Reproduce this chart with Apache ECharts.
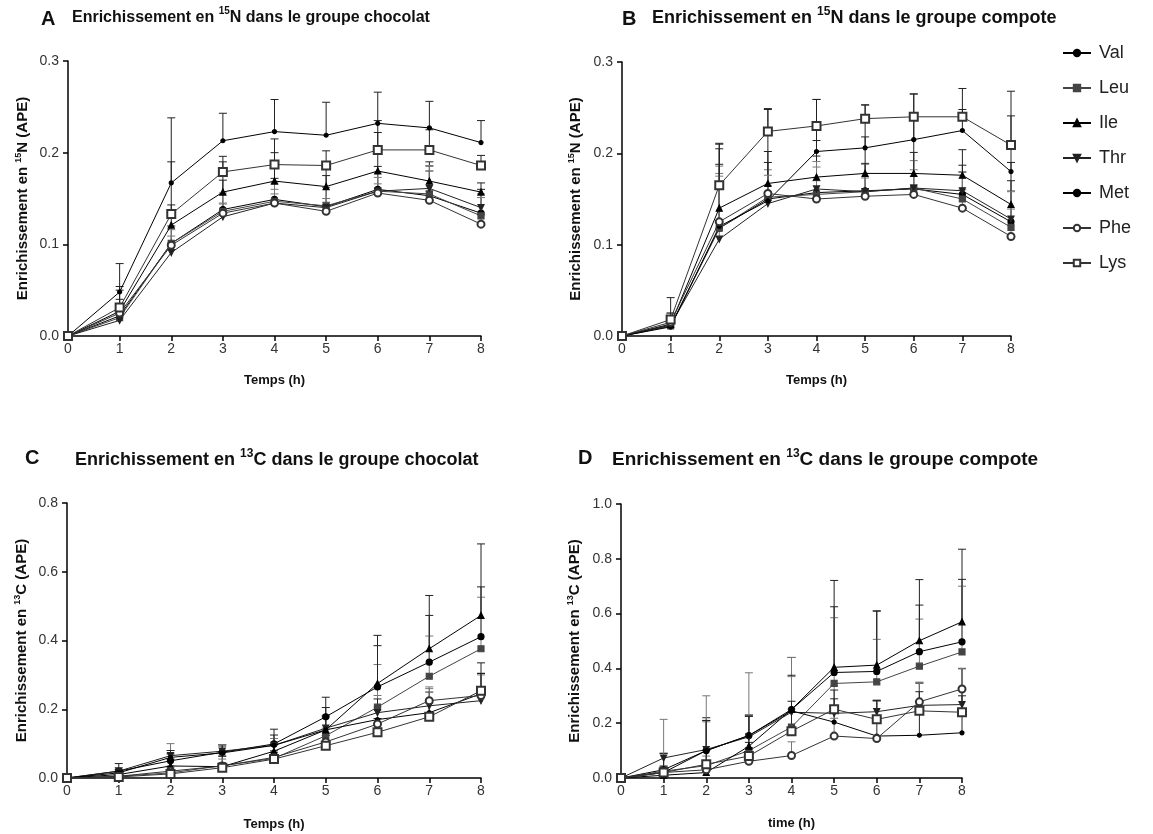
<!DOCTYPE html>
<html>
<head>
<meta charset="utf-8">
<title>Enrichissement 15N / 13C</title>
<script src="https://cdn.jsdelivr.net/npm/echarts@6/dist/echarts.min.js"></script>
<style>
  html, body { margin: 0; padding: 0; background: #fff; }
  #chart { width: 1153px; height: 834px; }
</style>
</head>
<body>
<div id="chart"></div>
<script>
// time points (h)
const hours = [0, 1, 2, 3, 4, 5, 6, 7, 8]
const aminoAcids = ['Val', 'Leu', 'Ile', 'Thr', 'Met', 'Phe', 'Lys']

// A : 15N, groupe chocolat (mean APE)
const A_Val = [0, 0.022, 0.101, 0.138, 0.149, 0.141, 0.160, 0.153, 0.134]
const A_Leu = [0, 0.020, 0.101, 0.136, 0.147, 0.142, 0.158, 0.155, 0.131]
const A_Ile = [0, 0.027, 0.121, 0.157, 0.169, 0.163, 0.180, 0.169, 0.157]
const A_Thr = [0, 0.017, 0.091, 0.130, 0.145, 0.140, 0.158, 0.161, 0.140]
const A_Met = [0, 0.048, 0.167, 0.213, 0.223, 0.219, 0.232, 0.227, 0.211]
const A_Phe = [0, 0.025, 0.099, 0.134, 0.145, 0.136, 0.156, 0.148, 0.122]
const A_Lys = [0, 0.031, 0.133, 0.179, 0.187, 0.186, 0.203, 0.203, 0.186]
// A : SD (upper bars)
const A_Val_sd = [0, 0.018, 0.019, 0.032, 0.023, 0.034, 0.025, 0.027, 0.026]
const A_Leu_sd = [0, 0.012, 0.015, 0.020, 0.020, 0.020, 0.020, 0.030, 0.020]
const A_Ile_sd = [0, 0.023, 0.022, 0.033, 0.031, 0.027, 0.055, 0.021, 0.010]
const A_Thr_sd = [0, 0.010, 0.010, 0.015, 0.015, 0.010, 0.015, 0.025, 0.015]
const A_Met_sd = [0, 0.031, 0.071, 0.030, 0.035, 0.036, 0.034, 0.029, 0.024]
const A_Phe_sd = [0, 0.010, 0.010, 0.010, 0.010, 0.010, 0.010, 0.010, 0.010]
const A_Lys_sd = [0, 0.023, 0.057, 0.017, 0.028, 0.016, 0.019, 0.022, 0.011]

// B : 15N, groupe compote
const B_Val = [0, 0.011, 0.118, 0.150, 0.157, 0.159, 0.161, 0.155, 0.125]
const B_Leu = [0, 0.011, 0.118, 0.152, 0.155, 0.158, 0.162, 0.150, 0.119]
const B_Ile = [0, 0.013, 0.140, 0.167, 0.174, 0.178, 0.178, 0.176, 0.144]
const B_Thr = [0, 0.012, 0.106, 0.145, 0.161, 0.158, 0.162, 0.159, 0.128]
const B_Met = [0, 0.010, 0.120, 0.148, 0.202, 0.206, 0.215, 0.225, 0.180]
const B_Phe = [0, 0.015, 0.125, 0.156, 0.150, 0.153, 0.155, 0.140, 0.109]
const B_Lys = [0, 0.018, 0.165, 0.224, 0.230, 0.238, 0.240, 0.240, 0.209]
const B_Val_sd = [0, 0.010, 0.070, 0.040, 0.040, 0.030, 0.040, 0.032, 0.045]
const B_Leu_sd = [0, 0.010, 0.060, 0.030, 0.030, 0.030, 0.030, 0.030, 0.040]
const B_Ile_sd = [0, 0.012, 0.065, 0.035, 0.040, 0.040, 0.060, 0.028, 0.046]
const B_Thr_sd = [0, 0.010, 0.080, 0.020, 0.030, 0.020, 0.020, 0.020, 0.030]
const B_Met_sd = [0, 0.015, 0.090, 0.100, 0.057, 0.047, 0.050, 0.023, 0.061]
const B_Phe_sd = [0, 0.010, 0.050, 0.020, 0.020, 0.020, 0.020, 0.020, 0.030]
const B_Lys_sd = [0, 0.024, 0.046, 0.025, 0.029, 0.015, 0.025, 0.031, 0.059]

// C : 13C, groupe chocolat
const C_Val = [0, 0.020, 0.050, 0.075, 0.099, 0.178, 0.265, 0.337, 0.411]
const C_Leu = [0, 0.005, 0.015, 0.036, 0.057, 0.123, 0.206, 0.296, 0.376]
const C_Ile = [0, 0.010, 0.035, 0.033, 0.078, 0.140, 0.275, 0.376, 0.473]
const C_Thr = [0, 0.020, 0.065, 0.078, 0.095, 0.145, 0.190, 0.210, 0.225]
const C_Met = [0, 0.015, 0.060, 0.073, 0.095, 0.140, 0.170, 0.190, 0.245]
const C_Phe = [0, 0.005, 0.020, 0.035, 0.060, 0.105, 0.157, 0.225, 0.240]
const C_Lys = [0, 0.003, 0.012, 0.030, 0.055, 0.094, 0.133, 0.178, 0.254]
const C_Val_sd = [0, 0.022, 0.020, 0.022, 0.043, 0.057, 0.120, 0.136, 0.145]
const C_Leu_sd = [0, 0.010, 0.020, 0.030, 0.040, 0.060, 0.124, 0.117, 0.150]
const C_Ile_sd = [0, 0.010, 0.020, 0.030, 0.020, 0.065, 0.140, 0.155, 0.208]
const C_Thr_sd = [0, 0.010, 0.035, 0.019, 0.020, 0.030, 0.050, 0.050, 0.080]
const C_Met_sd = [0, 0.010, 0.020, 0.020, 0.030, 0.040, 0.060, 0.060, 0.090]
const C_Phe_sd = [0, 0.005, 0.010, 0.020, 0.020, 0.040, 0.050, 0.040, 0.060]
const C_Lys_sd = [0, 0.005, 0.010, 0.010, 0.020, 0.030, 0.040, 0.040, 0.050]

// D : 13C, groupe compote
const D_Val = [0, 0.030, 0.100, 0.155, 0.250, 0.385, 0.389, 0.461, 0.497]
const D_Leu = [0, 0.025, 0.045, 0.100, 0.186, 0.345, 0.351, 0.408, 0.460]
const D_Ile = [0, 0.010, 0.020, 0.116, 0.250, 0.404, 0.412, 0.501, 0.570]
const D_Thr = [0, 0.073, 0.104, 0.150, 0.240, 0.236, 0.242, 0.265, 0.268]
const D_Met = [0, 0.020, 0.100, 0.155, 0.245, 0.204, 0.153, 0.156, 0.165]
const D_Phe = [0, 0.020, 0.030, 0.061, 0.082, 0.153, 0.144, 0.278, 0.325]
const D_Lys = [0, 0.020, 0.050, 0.080, 0.171, 0.251, 0.214, 0.245, 0.240]
const D_Val_sd = [0, 0.060, 0.120, 0.075, 0.190, 0.240, 0.220, 0.170, 0.228]
const D_Leu_sd = [0, 0.020, 0.160, 0.130, 0.254, 0.240, 0.155, 0.172, 0.240]
const D_Ile_sd = [0, 0.080, 0.190, 0.110, 0.125, 0.317, 0.198, 0.223, 0.265]
const D_Thr_sd = [0, 0.141, 0.196, 0.234, 0.130, 0.100, 0.040, 0.085, 0.130]
const D_Met_sd = [0, 0.020, 0.110, 0.070, 0.035, 0.085, 0.130, 0.190, 0.235]
const D_Phe_sd = [0, 0.020, 0.050, 0.050, 0.050, 0.065, 0.136, 0.070, 0.075]
const D_Lys_sd = [0, 0.020, 0.050, 0.050, 0.070, 0.070, 0.070, 0.070, 0.060]

// y-axis ranges per panel
const yMax = [0.3, 0.3, 0.8, 1.0]
const yStep = [0.1, 0.1, 0.2, 0.2]

const FONT = 'Liberation Sans, Arial, sans-serif'

const panels = [
  { means: [A_Val, A_Leu, A_Ile, A_Thr, A_Met, A_Phe, A_Lys], sds: [A_Val_sd, A_Leu_sd, A_Ile_sd, A_Thr_sd, A_Met_sd, A_Phe_sd, A_Lys_sd] },
  { means: [B_Val, B_Leu, B_Ile, B_Thr, B_Met, B_Phe, B_Lys], sds: [B_Val_sd, B_Leu_sd, B_Ile_sd, B_Thr_sd, B_Met_sd, B_Phe_sd, B_Lys_sd] },
  { means: [C_Val, C_Leu, C_Ile, C_Thr, C_Met, C_Phe, C_Lys], sds: [C_Val_sd, C_Leu_sd, C_Ile_sd, C_Thr_sd, C_Met_sd, C_Phe_sd, C_Lys_sd] },
  { means: [D_Val, D_Leu, D_Ile, D_Thr, D_Met, D_Phe, D_Lys], sds: [D_Val_sd, D_Leu_sd, D_Ile_sd, D_Thr_sd, D_Met_sd, D_Phe_sd, D_Lys_sd] }
]

// marker look for each amino acid
const markers = {
  Val: { symbol: 'circle', size: 6, rotate: 0, color: '#000' },
  Leu: { symbol: 'rect', size: 6, rotate: 0, color: '#444' },
  Ile: { symbol: 'triangle', size: 6, rotate: 0, color: '#000' },
  Thr: { symbol: 'triangle', size: 6, rotate: 180, color: '#222' },
  Met: { symbol: 'circle', size: 4, rotate: 0, color: '#000' },
  Phe: { symbol: 'emptyCircle', size: 7, rotate: 0, color: '#333' },
  Lys: { symbol: 'emptyRect', size: 8, rotate: 0, color: '#333' }
}

const grids = [
  { left: 68, top: 61, width: 413, height: 275 },
  { left: 622, top: 62, width: 389, height: 274 },
  { left: 67, top: 503, width: 414, height: 275 },
  { left: 621, top: 504, width: 341, height: 274 }
]

const xNames = ['Temps (h)', 'Temps (h)', 'Temps (h)', 'time (h)']
const xNameGap = [38, 38, 40, 39]
const yNameGap = [36, 37, 36, 37]
const isotopes = ['15', '15', '13', '13']
const elements = ['N', 'N', 'C', 'C']

function richTitle(size) {
  return {
    t: { fontFamily: FONT, fontSize: size, fontWeight: 'bold', color: '#111', lineHeight: 24 },
    s: { fontFamily: FONT, fontSize: Math.round(size * 0.65), fontWeight: 'bold', color: '#111', lineHeight: 12, verticalAlign: 'top' }
  }
}
const richAxis = {
  t: { fontFamily: FONT, fontSize: 15, fontWeight: 'bold', color: '#111', lineHeight: 18 },
  s: { fontFamily: FONT, fontSize: 9, fontWeight: 'bold', color: '#111', lineHeight: 9, verticalAlign: 'top' }
}

function errorBars(params, api) {
  const base = api.coord([api.value(0), api.value(1)])
  const top = api.coord([api.value(0), api.value(2)])
  const style = { stroke: api.visual('color'), lineWidth: 1 }
  return {
    type: 'group',
    children: [
      { type: 'line', shape: { x1: base[0], y1: base[1], x2: top[0], y2: top[1] }, style: style },
      { type: 'line', shape: { x1: top[0] - 4, y1: top[1], x2: top[0] + 4, y2: top[1] }, style: style }
    ]
  }
}

const chart = echarts.init(document.getElementById('chart'))

const titles = [
  { text: 'A', left: 36, top: 4 },
  { text: 'B', left: 617, top: 4 },
  { text: 'C', left: 20, top: 443 },
  { text: 'D', left: 573, top: 443 }
].map(t => Object.assign(t, { textStyle: { fontFamily: FONT, fontSize: 20, fontWeight: 'bold', color: '#111' } }))

const groupNames = ['chocolat', 'compote', 'chocolat', 'compote']
const titleLeft = [67, 647, 70, 607]
const titleTop = [1, 1, 443, 443]
const titleSize = [16, 18, 18, 19]
groupNames.forEach((g, i) => {
  titles.push({
    text: '{t|Enrichissement en }{s|' + isotopes[i] + '}{t|' + elements[i] + ' dans le groupe ' + g + '}',
    left: titleLeft[i],
    top: titleTop[i],
    textStyle: { rich: richTitle(titleSize[i]) }
  })
})

const xAxes = grids.map((g, i) => ({
  type: 'value',
  gridIndex: i,
  min: 0,
  max: 8,
  interval: 1,
  name: xNames[i],
  nameLocation: 'middle',
  nameGap: xNameGap[i],
  nameTextStyle: { fontFamily: FONT, fontSize: 13, fontWeight: 'bold', color: '#111' },
  splitLine: { show: false },
  axisLine: { lineStyle: { color: '#000', width: 1.5 } },
  axisTick: { length: 5, lineStyle: { color: '#000', width: 1.5 } },
  axisLabel: { fontFamily: FONT, fontSize: 14, color: '#333', margin: 6 }
}))

const yAxes = grids.map((g, i) => ({
  type: 'value',
  gridIndex: i,
  min: 0,
  max: yMax[i],
  interval: yStep[i],
  name: '{t|Enrichissement en }{s|' + isotopes[i] + '}{t|' + elements[i] + ' (APE)}',
  nameLocation: 'middle',
  nameGap: yNameGap[i],
  nameTextStyle: { rich: richAxis },
  splitLine: { show: false },
  axisLine: { lineStyle: { color: '#000', width: 1.5 } },
  axisTick: { length: 5, lineStyle: { color: '#000', width: 1.5 } },
  axisLabel: { fontFamily: FONT, fontSize: 14, color: '#333', margin: 9, formatter: v => v.toFixed(1) }
}))

const series = []
panels.forEach((p, pi) => {
  aminoAcids.forEach((aa, k) => {
    const m = markers[aa]
    series.push({
      name: aa + ' sd',
      type: 'custom',
      xAxisIndex: pi,
      yAxisIndex: pi,
      renderItem: errorBars,
      itemStyle: { color: k % 2 ? '#777' : '#222' },
      data: hours.slice(1).map(h => [h, p.means[k][h], p.means[k][h] + p.sds[k][h]]),
      z: 1,
      silent: true
    })
    series.push({
      name: aa,
      type: 'line',
      xAxisIndex: pi,
      yAxisIndex: pi,
      symbol: m.symbol,
      symbolSize: m.size,
      symbolRotate: m.rotate,
      showAllSymbol: true,
      lineStyle: { color: m.color, width: 1 },
      itemStyle: { color: m.color, borderColor: m.color, borderWidth: 1.2 },
      data: hours.map(h => [h, p.means[k][h]]),
      z: 3,
      animation: false
    })
  })
})

chart.setOption({
  animation: false,
  backgroundColor: '#fff',
  textStyle: { fontFamily: FONT },
  title: titles,
  legend: {
    data: aminoAcids,
    orient: 'vertical',
    left: 1057,
    top: 39,
    itemWidth: 28,
    itemHeight: 8,
    itemGap: 17,
    textStyle: { fontFamily: FONT, fontSize: 18, color: '#222', padding: [0, 0, 0, 3] },
    selectedMode: false
  },
  grid: grids,
  xAxis: xAxes,
  yAxis: yAxes,
  series: series
})
</script>
</body>
</html>
